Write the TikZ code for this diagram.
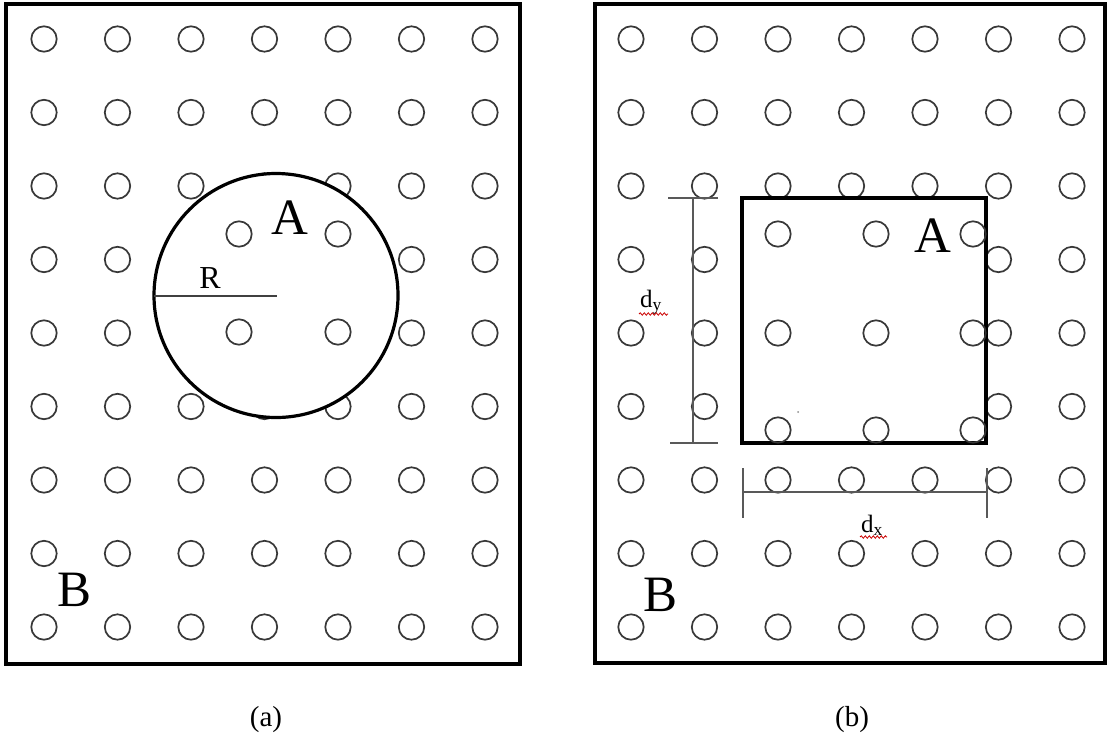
\documentclass[tikz,border=0pt]{standalone}
\usepackage{fontspec}
\setmainfont{Liberation Serif}
\usetikzlibrary{decorations.pathmorphing}
\begin{document}
\begin{tikzpicture}[x=1pt,y=-1pt,
  hole/.style={draw=black!78, line width=1.7pt},
  frame/.style={draw=black, line width=4pt},
  region/.style={draw=black, fill=white, line width=3.2pt},
  dimline/.style={draw=black!65, line width=2pt},
  radline/.style={draw=black!75, line width=2pt},
  biglabel/.style={font=\fontsize{51}{51}\selectfont, inner sep=0pt, anchor=base},
  smalllabel/.style={font=\fontsize{32}{32}\selectfont, inner sep=0pt, anchor=base},
  dimlabel/.style={font=\fontsize{25}{25}\selectfont, inner sep=0pt, anchor=base west},
  caption/.style={font=\fontsize{29}{29}\selectfont, inner sep=0pt},
  squiggle/.style={draw=red!80!black, line width=0.8pt, decorate, decoration={snake, segment length=4pt, amplitude=1.2pt}}
]
\useasboundingbox (0,0) rectangle (1107,740);
\fill[white] (0,0) rectangle (1107,740);

% ---------- panel (a) ----------
\draw[frame] (6,3.7) rectangle (520,663.5);
\foreach \c in {0,...,6} \foreach \r in {0,...,8}
  \draw[hole] ({44+73.5*\c},{39+73.5*\r}) circle[radius=12.7pt];
\draw[region] (276,295.5) circle[radius=122pt];
\foreach \p in {(239,234),(338,234),(239,332),(338,332)}
  \draw[hole] \p circle[radius=12.7pt];
\coordinate (rstart) at (154,296);
\coordinate (rcenter) at (277,296);
\draw[radline] (rstart) -- (rcenter);
\node[smalllabel] (lblR) at (210,288) {R};
\node[biglabel] (lblAa) at (290,234) {A};
\node[biglabel] (lblBa) at (75,606) {B};
\node[caption] (capa) at (266,720) {(a)};

% ---------- panel (b) ----------
\draw[frame] (594.7,3.7) rectangle (1104.5,663.2);
\foreach \c in {0,...,6} \foreach \r in {0,...,8}
  \draw[hole] ({631+73.5*\c},{39+73.5*\r}) circle[radius=12.7pt];
\draw[region] (742,198) rectangle (986,443);
\foreach \x in {778,876,973} \foreach \y in {234,333,430}
  \draw[hole] (\x,\y) circle[radius=12.7pt];
\fill[black!45] (798,412) circle[radius=1pt];

% dy dimension
\coordinate (dyt) at (693,198);
\coordinate (dyb) at (693,443);
\coordinate (dytl) at (668,198);
\coordinate (dytr) at (718,198);
\coordinate (dybl) at (670,443);
\coordinate (dybr) at (718,443);
\draw[dimline] (dyt) -- (dyb);
\draw[dimline] (dytl) -- (dytr);
\draw[dimline] (dybl) -- (dybr);
% dx dimension
\coordinate (dxl) at (743,492);
\coordinate (dxr) at (987,492);
\coordinate (dxlt) at (743,468);
\coordinate (dxlb) at (743,518);
\coordinate (dxrt) at (987,468);
\coordinate (dxrb) at (987,518);
\draw[dimline] (dxl) -- (dxr);
\draw[dimline] (dxlt) -- (dxlb);
\draw[dimline] (dxrt) -- (dxrb);

\node[dimlabel] (lbldy) at (640,307) {d\textsubscript{y}};
\node[dimlabel] (lbldx) at (861,532) {d\textsubscript{x}};
\coordinate (sqyl) at (639,314);
\coordinate (sqyr) at (668,314);
\coordinate (sqxl) at (860,537);
\coordinate (sqxr) at (887,537);
\draw[squiggle] (sqyl) -- (sqyr);
\draw[squiggle] (sqxl) -- (sqxr);

\node[biglabel] (lblAb) at (933,252) {A};
\node[biglabel] (lblBb) at (660,611) {B};
\node[caption] (capb) at (852,720) {(b)};
\end{tikzpicture}
\end{document}
